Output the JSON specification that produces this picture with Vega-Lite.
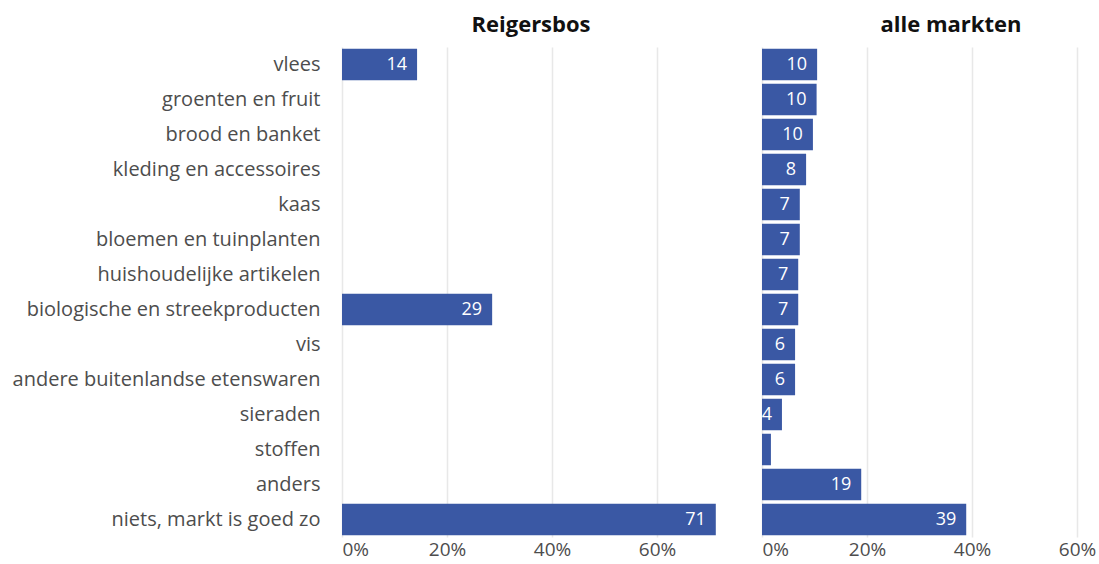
{
  "$schema": "https://vega.github.io/schema/vega-lite/v6.json",
  "padding": {"left": 0, "top": 14, "right": 0, "bottom": 5},
  "background": "white",
  "config": {
    "view": {"stroke": null},
    "font": "Open Sans",
    "facet": {"spacing": 42}
  },
  "data": {
    "values": [
      {"markt": "Reigersbos", "cat": "vlees", "pct": 14.3, "label": "14"},
      {"markt": "Reigersbos", "cat": "biologische en streekproducten", "pct": 28.6, "label": "29"},
      {"markt": "Reigersbos", "cat": "niets, markt is goed zo", "pct": 71.2, "label": "71"},
      {"markt": "alle markten", "cat": "vlees", "pct": 10.5, "label": "10"},
      {"markt": "alle markten", "cat": "groenten en fruit", "pct": 10.4, "label": "10"},
      {"markt": "alle markten", "cat": "brood en banket", "pct": 9.7, "label": "10"},
      {"markt": "alle markten", "cat": "kleding en accessoires", "pct": 8.4, "label": "8"},
      {"markt": "alle markten", "cat": "kaas", "pct": 7.2, "label": "7"},
      {"markt": "alle markten", "cat": "bloemen en tuinplanten", "pct": 7.2, "label": "7"},
      {"markt": "alle markten", "cat": "huishoudelijke artikelen", "pct": 6.9, "label": "7"},
      {"markt": "alle markten", "cat": "biologische en streekproducten", "pct": 6.9, "label": "7"},
      {"markt": "alle markten", "cat": "vis", "pct": 6.3, "label": "6"},
      {"markt": "alle markten", "cat": "andere buitenlandse etenswaren", "pct": 6.3, "label": "6"},
      {"markt": "alle markten", "cat": "sieraden", "pct": 3.8, "label": "4"},
      {"markt": "alle markten", "cat": "stoffen", "pct": 1.7, "label": "2"},
      {"markt": "alle markten", "cat": "anders", "pct": 18.9, "label": "19"},
      {"markt": "alle markten", "cat": "niets, markt is goed zo", "pct": 38.9, "label": "39"}
    ]
  },
  "facet": {
    "column": {
      "field": "markt",
      "type": "nominal",
      "sort": ["Reigersbos", "alle markten"],
      "header": {
        "title": null,
        "labelFontSize": 22,
        "labelFontWeight": "bold",
        "labelColor": "#111111",
        "labelPadding": 10
      }
    }
  },
  "spec": {
    "width": 378,
    "height": 490,
    "encoding": {
      "y": {
        "field": "cat",
        "type": "nominal",
        "sort": ["vlees", "groenten en fruit", "brood en banket", "kleding en accessoires", "kaas", "bloemen en tuinplanten", "huishoudelijke artikelen", "biologische en streekproducten", "vis", "andere buitenlandse etenswaren", "sieraden", "stoffen", "anders", "niets, markt is goed zo"],
        "scale": {"paddingInner": 0.1, "paddingOuter": 0.05},
        "axis": {
          "title": null,
          "ticks": false,
          "domain": false,
          "labelFontSize": 20,
          "labelColor": "#4d4d4d",
          "labelPadding": 22,
          "minExtent": 342,
          "maxExtent": 342,
          "labelLimit": 400
        }
      },
      "x": {
        "field": "pct",
        "type": "quantitative",
        "scale": {"domain": [0, 72], "nice": false, "zero": true},
        "axis": {
          "title": null,
          "values": [0, 20, 40, 60],
          "labelExpr": "datum.value + '%'",
          "ticks": false,
          "domain": false,
          "labelFontSize": 19,
          "labelColor": "#4d4d4d",
          "labelPadding": 3,
          "grid": true,
          "gridColor": "#e8e8e8",
          "gridWidth": 1.5
        }
      }
    },
    "layer": [
      {"mark": {"type": "bar", "color": "#3a58a4"}},
      {
        "mark": {"type": "text", "align": "right", "dx": -10, "color": "white", "fontSize": 18, "clip": true},
        "encoding": {"text": {"field": "label"}}
      }
    ]
  }
}
